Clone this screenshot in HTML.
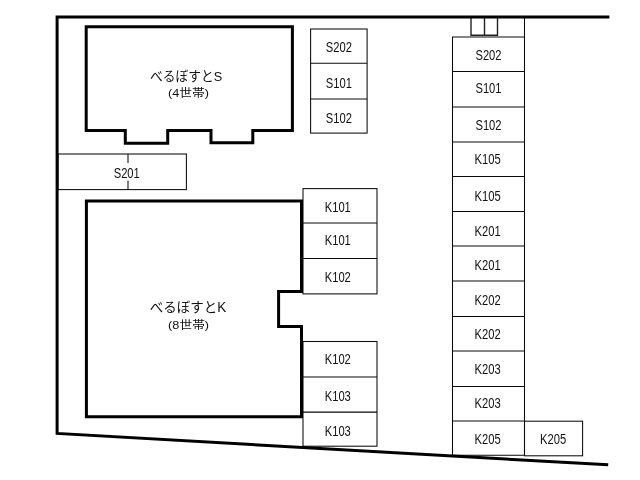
<!DOCTYPE html>
<html lang="ja"><head><meta charset="utf-8"><title>駐車場配置図</title>
<style>
html,body{margin:0;padding:0;background:#fff;}
body{width:640px;height:480px;overflow:hidden;font-family:"Liberation Sans",sans-serif;}
svg{display:block;will-change:transform;}
.thick{fill:none;stroke:#000;stroke-width:3;stroke-linejoin:miter;stroke-linecap:butt;}
.thin{fill:none;stroke:#0a0a0a;stroke-width:1.05;}
.mid{fill:none;stroke:#222;stroke-width:1.4;}
.lbl{font-family:"Liberation Sans",sans-serif;font-size:14px;fill:#111;text-anchor:start;}
.jp{fill:#111;font-family:"Liberation Sans","Noto Sans CJK JP",sans-serif;text-anchor:middle;}
</style></head><body>
<svg width="640" height="480" viewBox="0 0 640 480">
<rect width="640" height="480" fill="#fff"/>
<rect class="thin" x="58" y="154" width="128.4" height="35.6"/>
<line class="thin" x1="128" y1="154" x2="128" y2="189.6"/>
<rect x="112" y="163" width="30" height="17.6" fill="#fff"/>
<rect class="thin" x="310.6" y="29" width="56.5" height="104.1"/>
<line class="thin" x1="310.6" y1="63.3" x2="367.1" y2="63.3"/>
<line class="thin" x1="310.6" y1="99" x2="367.1" y2="99"/>
<rect class="thin" x="303" y="188.6" width="74" height="105.29999999999998"/>
<line class="thin" x1="303" y1="223" x2="377" y2="223"/>
<line class="thin" x1="303" y1="258.4" x2="377" y2="258.4"/>
<rect class="thin" x="303" y="341.5" width="74" height="104.69999999999999"/>
<line class="thin" x1="303" y1="377" x2="377" y2="377"/>
<line class="thin" x1="303" y1="412.1" x2="377" y2="412.1"/>
<path class="thin" d="M452.5 455.3V36.9H524.5M524.5 17V455.3H452.5"/>
<line class="thin" x1="452.5" y1="71.5" x2="524.5" y2="71.5"/>
<line class="thin" x1="452.5" y1="107" x2="524.5" y2="107"/>
<line class="thin" x1="452.5" y1="142" x2="524.5" y2="142"/>
<line class="thin" x1="452.5" y1="176.5" x2="524.5" y2="176.5"/>
<line class="thin" x1="452.5" y1="211.5" x2="524.5" y2="211.5"/>
<line class="thin" x1="452.5" y1="246" x2="524.5" y2="246"/>
<line class="thin" x1="452.5" y1="281" x2="524.5" y2="281"/>
<line class="thin" x1="452.5" y1="316.5" x2="524.5" y2="316.5"/>
<line class="thin" x1="452.5" y1="351" x2="524.5" y2="351"/>
<line class="thin" x1="452.5" y1="386.5" x2="524.5" y2="386.5"/>
<line class="thin" x1="452.5" y1="421" x2="524.5" y2="421"/>
<rect class="thin" x="524.5" y="421.2" width="58.1" height="34.6"/>
<path class="mid" d="M471 17V35.2H497.5V17M484.5 17V35.2"/>
<path class="thick" d="M609.4 17H57.1V433.45L608.2 464.85"/>
<path class="thick" d="M86.2 26.8H292.4V130.6H252.8V142.8H211V130.6H167.7V143.3H125.3V130.6H86.2Z"/>
<path class="thick" d="M86.4 201H301.5V291.5H278.6V326.4H301.5V416.7H86.4Z"/>
<text class="lbl" transform="translate(113.69 177.80) scale(0.8 1)">S201</text>
<text class="lbl" transform="translate(325.84 52.10) scale(0.8 1)">S202</text>
<text class="lbl" transform="translate(325.84 88.10) scale(0.8 1)">S101</text>
<text class="lbl" transform="translate(325.84 122.50) scale(0.8 1)">S102</text>
<text class="lbl" transform="translate(324.73 211.80) scale(0.8 1)">K101</text>
<text class="lbl" transform="translate(324.73 245.10) scale(0.8 1)">K101</text>
<text class="lbl" transform="translate(324.73 282.00) scale(0.8 1)">K102</text>
<text class="lbl" transform="translate(324.73 363.90) scale(0.8 1)">K102</text>
<text class="lbl" transform="translate(324.73 401.10) scale(0.8 1)">K103</text>
<text class="lbl" transform="translate(324.73 435.90) scale(0.8 1)">K103</text>
<text class="lbl" transform="translate(475.44 59.50) scale(0.8 1)">S202</text>
<text class="lbl" transform="translate(475.44 93.00) scale(0.8 1)">S101</text>
<text class="lbl" transform="translate(475.44 129.50) scale(0.8 1)">S102</text>
<text class="lbl" transform="translate(474.53 164.25) scale(0.8 1)">K105</text>
<text class="lbl" transform="translate(474.53 200.75) scale(0.8 1)">K105</text>
<text class="lbl" transform="translate(474.53 235.50) scale(0.8 1)">K201</text>
<text class="lbl" transform="translate(474.53 269.50) scale(0.8 1)">K201</text>
<text class="lbl" transform="translate(474.53 304.50) scale(0.8 1)">K202</text>
<text class="lbl" transform="translate(474.53 339.25) scale(0.8 1)">K202</text>
<text class="lbl" transform="translate(474.53 374.25) scale(0.8 1)">K203</text>
<text class="lbl" transform="translate(474.53 408.25) scale(0.8 1)">K203</text>
<text class="lbl" transform="translate(474.53 443.75) scale(0.8 1)">K205</text>
<text class="lbl" transform="translate(540.03 443.75) scale(0.8 1)">K205</text>
<text class="jp" x="186.1" y="80.6" font-size="13.5" textLength="72.2" lengthAdjust="spacingAndGlyphs">べるぼすとS</text>
<text class="jp" x="188.5" y="97.2" font-size="11.5" textLength="40.9" lengthAdjust="spacingAndGlyphs">(4世帯)</text>
<text class="jp" x="188" y="312.4" font-size="14" textLength="76.4" lengthAdjust="spacingAndGlyphs">べるぼすとK</text>
<text class="jp" x="188.6" y="328.8" font-size="11.5" textLength="41" lengthAdjust="spacingAndGlyphs">(8世帯)</text>
</svg>
</body></html>
